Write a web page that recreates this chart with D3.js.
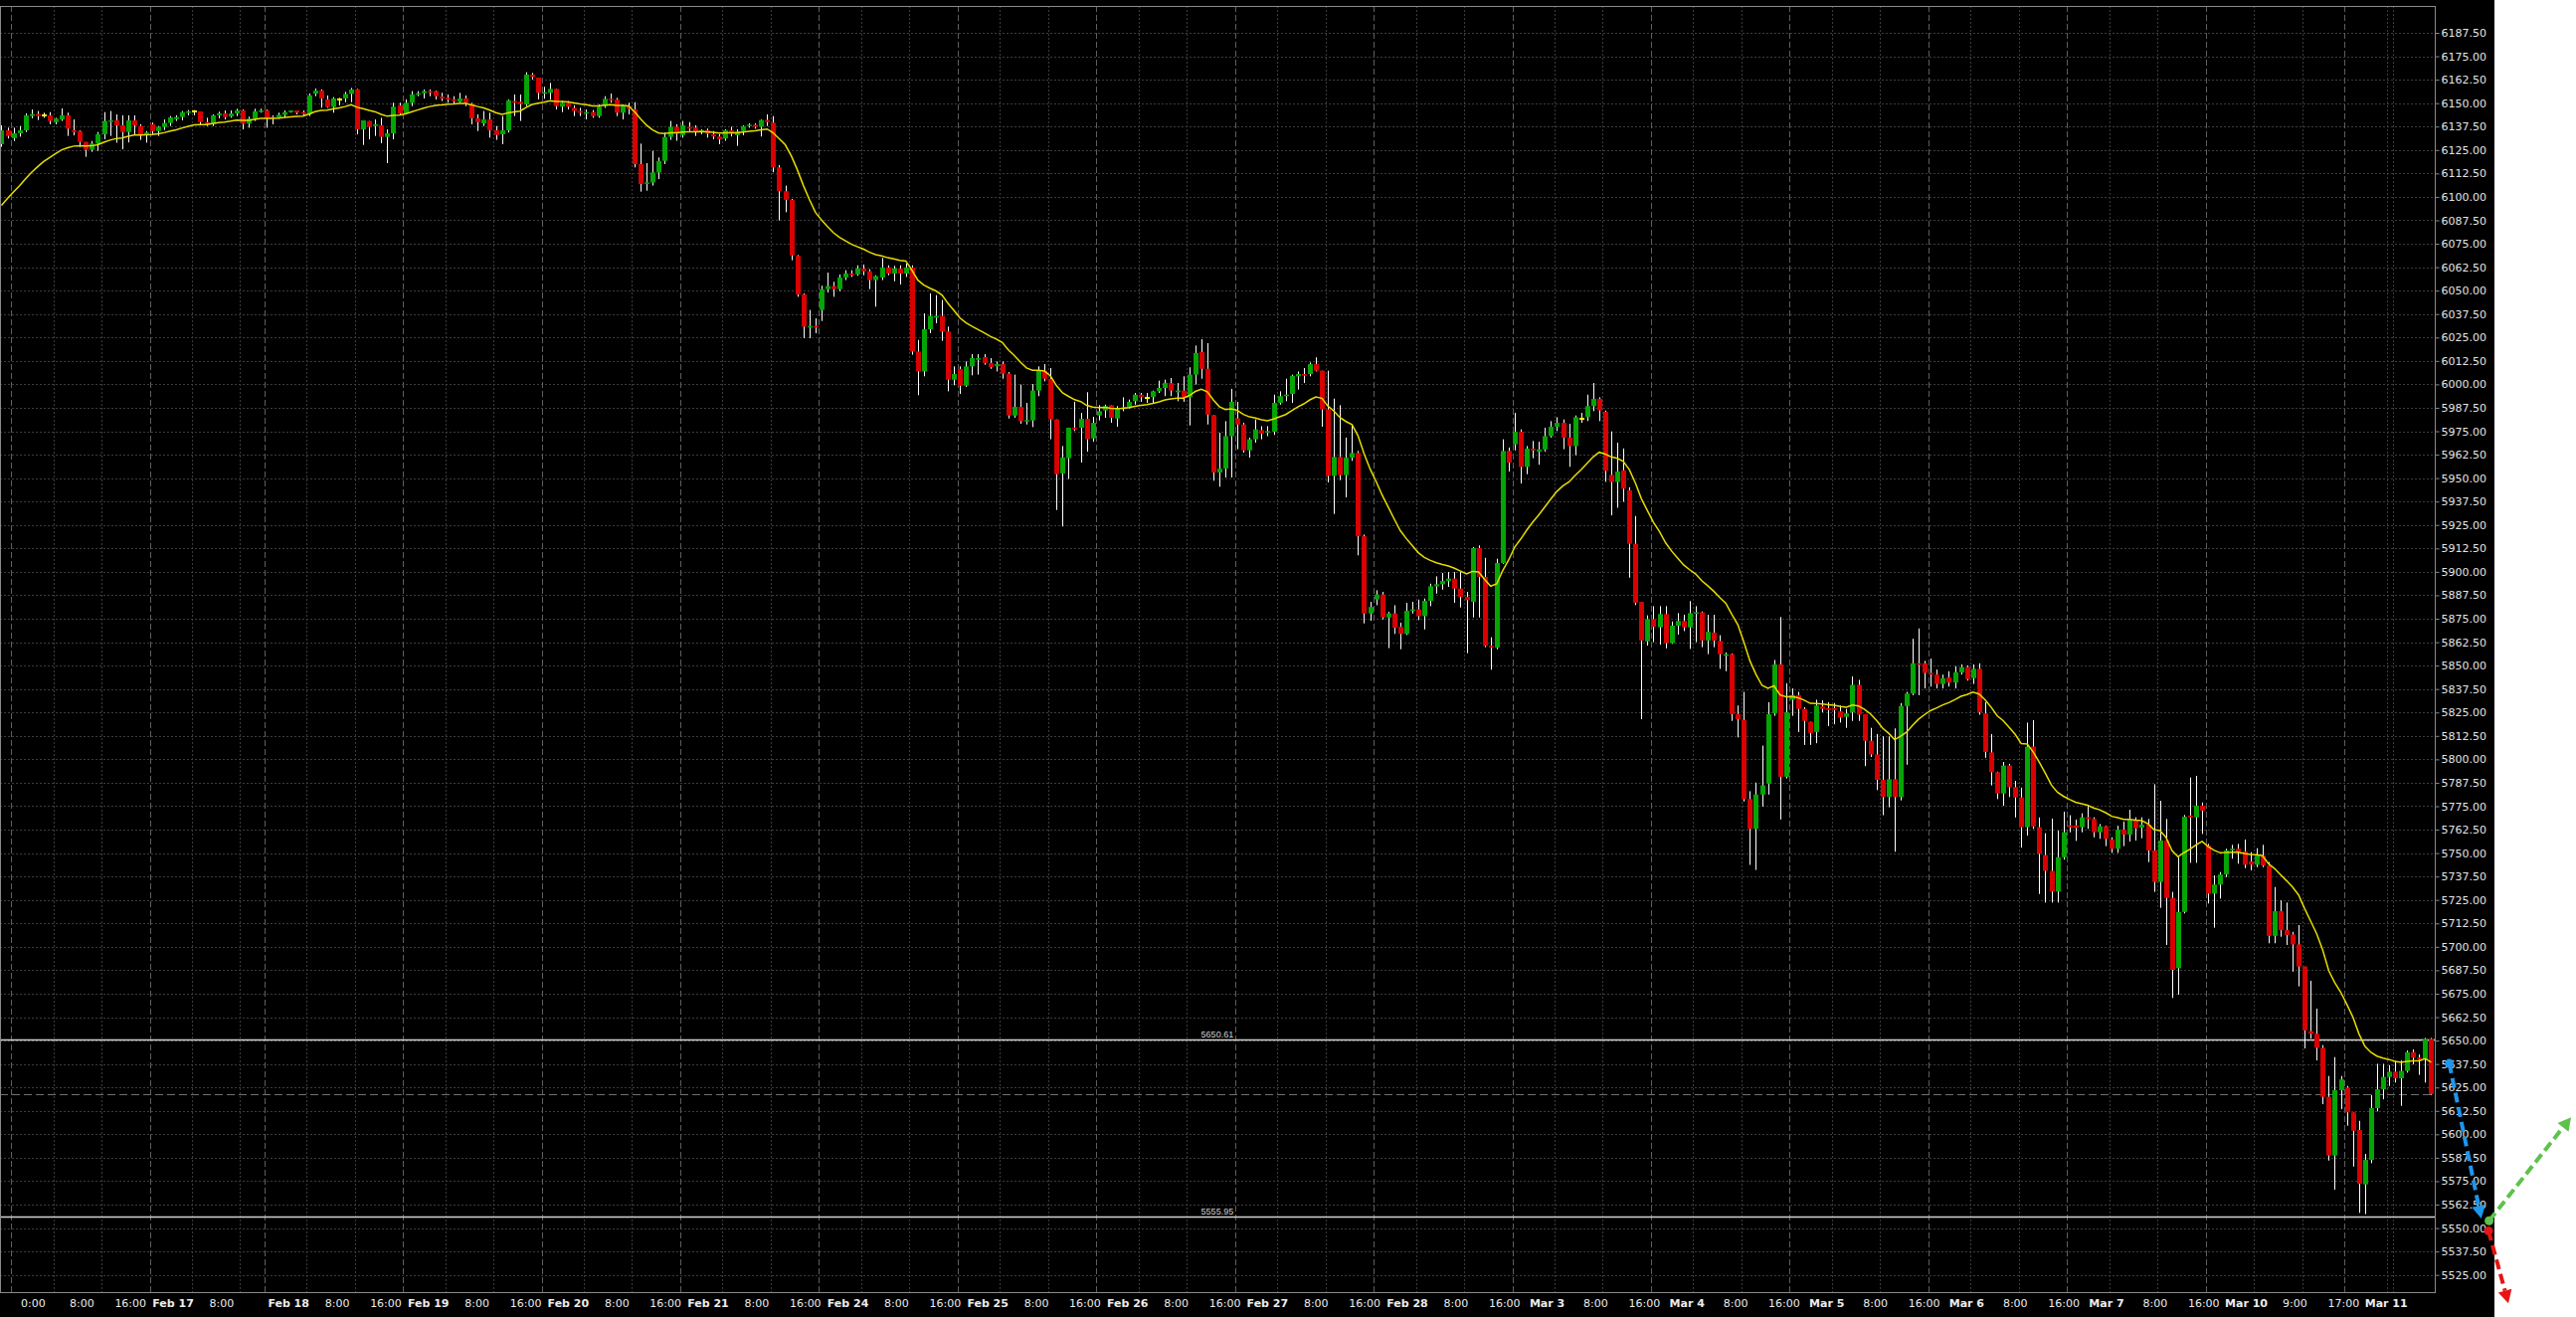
<!DOCTYPE html>
<html><head><meta charset="utf-8">
<script src="https://cdn.jsdelivr.net/npm/d3@7"></script>
<style>
html,body{margin:0;padding:0;background:#ffffff;}
svg{display:block;}
</style></head><body>
<svg id="chart" width="2590" height="1324"></svg>
<script>
// ---------------- DATA (hourly candles) ----------------
const opens = [
6128.1,6135.5,6131.3,6133.9,6135.5,6143.1,6144.2,6143.6,6143.5,6139.9,
6141.3,6143.5,6135.5,6135.1,6129.3,6125.1,6128.4,6133.4,6140.0,6140.8,
6138.2,6134.6,6140.8,6137.8,6132.9,6138.7,6135.1,6137.3,6139.4,6141.5,
6142.6,6145.2,6145.4,6145.6,6139.9,6139.0,6143.5,6144.5,6142.9,6144.5,
6146.1,6139.0,6141.7,6145.6,6146.1,6142.6,6142.1,6143.8,6145.2,6146.1,
6145.2,6144.2,6155.0,6156.7,6152.0,6147.9,6152.0,6152.5,6154.9,6157.3,
6136.0,6140.5,6137.8,6138.2,6132.0,6133.9,6148.8,6144.5,6150.2,6154.6,
6155.3,6156.4,6156.4,6153.5,6152.8,6152.0,6150.7,6152.5,6149.6,6141.9,
6139.2,6141.3,6135.5,6133.4,6135.5,6151.1,6150.7,6149.3,6165.2,6163.6,
6155.1,6155.5,6157.6,6148.1,6150.2,6147.5,6145.8,6144.4,6145.2,6143.1,
6148.4,6152.3,6151.9,6144.9,6148.4,6146.6,6117.5,6106.9,6107.7,6113.0,
6119.2,6132.0,6137.4,6132.9,6137.4,6136.9,6134.6,6135.5,6133.4,6132.2,
6131.1,6135.5,6132.9,6135.1,6137.8,6138.5,6137.4,6141.0,6139.6,6115.7,
6103.0,6098.4,6068.5,6048.0,6030.3,6031.2,6039.7,6050.8,6052.4,6050.8,
6057.0,6059.1,6058.7,6061.8,6060.3,6055.6,6057.0,6062.3,6059.1,6061.8,
6059.1,6062.3,6017.5,6006.9,6029.4,6035.6,6036.5,6028.2,6002.5,6008.2,
5999.3,6009.6,6013.1,6014.5,6011.4,6009.6,6010.8,6005.7,5983.4,5988.0,
5980.4,5980.8,5996.7,6007.3,6003.0,5981.3,5952.5,5960.6,5976.9,5976.9,
5981.6,5971.2,5983.4,5986.1,5988.9,5981.8,5986.9,5987.8,5991.0,5994.5,
5992.8,5993.3,5996.3,5998.1,6000.7,5995.8,5996.7,5993.1,6005.2,6017.2,
6008.3,5983.6,5953.0,5955.1,5972.4,5981.8,5978.6,5964.8,5970.7,5975.6,
5974.2,5974.7,5990.1,5993.7,5994.9,6004.3,6005.5,6005.5,6010.8,6007.3,
5986.6,5951.2,5961.3,5951.6,5960.9,5963.4,5919.0,5877.8,5885.3,5887.9,
5875.7,5877.8,5870.7,5866.9,5879.2,5880.0,5876.4,5884.5,5892.3,5893.4,
5895.1,5896.4,5891.1,5886.7,5884.0,5912.7,5897.3,5860.5,5859.6,5904.7,
5964.5,5968.0,5974.7,5956.0,5965.7,5964.1,5965.3,5972.4,5977.4,5979.5,
5971.6,5967.1,5981.8,5982.5,5988.4,5992.3,5985.3,5951.7,5947.9,5954.2,
5943.5,5915.0,5883.9,5862.9,5874.8,5870.4,5877.5,5862.0,5871.3,5873.8,
5870.4,5877.7,5878.4,5863.4,5867.6,5863.1,5855.2,5856.1,5824.1,5820.9,
5778.8,5762.9,5781.2,5787.0,5824.5,5850.6,5790.7,5831.8,5834.2,5826.9,
5820.0,5814.6,5828.2,5827.3,5827.3,5825.6,5822.7,5825.1,5839.7,5824.1,
5809.9,5802.6,5789.1,5779.9,5789.4,5779.9,5828.4,5835.1,5851.2,5851.2,
5846.1,5845.2,5840.2,5843.7,5841.0,5846.4,5849.2,5843.3,5848.3,5824.5,
5803.7,5793.1,5781.8,5796.7,5785.2,5779.7,5763.8,5806.8,5763.8,5748.9,
5740.5,5729.5,5747.8,5764.8,5764.8,5763.8,5769.1,5768.2,5761.1,5764.3,
5757.2,5752.3,5762.5,5759.9,5767.8,5763.5,5765.2,5751.4,5734.6,5756.7,
5726.1,5688.6,5718.6,5770.0,5769.1,5775.3,5754.0,5728.4,5733.2,5738.6,
5751.4,5752.3,5750.8,5745.5,5743.8,5748.7,5743.4,5705.9,5719.0,5708.9,
5706.6,5701.3,5689.5,5655.0,5653.6,5646.1,5620.0,5588.7,5623.5,5624.9,
5611.7,5602.3,5573.3,5586.4,5614.0,5624.0,5630.6,5633.4,5629.9,5633.8,
5643.8,5640.9,5640.0,5650.9];
const highs = [
6138.2,6136.9,6136.9,6137.8,6144.5,6146.6,6145.8,6144.9,6145.2,6142.2,
6147.2,6144.9,6141.3,6135.5,6129.3,6129.8,6134.6,6145.2,6145.8,6144.0,
6143.5,6143.5,6143.5,6138.7,6135.1,6139.6,6137.8,6141.3,6143.1,6143.5,
6145.8,6146.3,6146.3,6145.6,6142.2,6144.0,6145.4,6146.1,6146.1,6147.0,
6146.6,6142.8,6147.0,6147.0,6146.6,6143.5,6144.9,6146.1,6146.1,6146.1,
6146.1,6155.1,6157.8,6157.3,6154.1,6153.2,6152.8,6156.0,6158.1,6157.6,
6140.8,6140.5,6141.3,6142.2,6136.0,6150.2,6150.2,6152.0,6156.4,6156.4,
6157.3,6157.3,6156.7,6155.5,6154.6,6153.7,6155.5,6154.1,6150.2,6144.0,
6145.8,6144.9,6137.8,6143.1,6151.9,6154.6,6154.6,6166.5,6166.1,6163.6,
6158.7,6160.8,6157.6,6151.1,6151.1,6148.8,6147.5,6146.6,6146.3,6149.3,
6153.7,6155.1,6152.8,6149.3,6150.2,6150.5,6128.4,6118.0,6124.5,6121.0,
6134.3,6140.5,6138.7,6140.5,6139.9,6138.2,6136.0,6136.4,6135.1,6133.4,
6136.0,6137.4,6136.0,6138.2,6139.2,6139.2,6141.3,6144.0,6143.1,6117.0,
6106.0,6098.9,6069.0,6048.5,6039.7,6035.2,6052.6,6059.6,6054.7,6058.6,
6060.9,6060.9,6063.5,6063.9,6061.4,6058.2,6067.4,6063.5,6063.2,6063.5,
6064.4,6063.5,6023.7,6037.9,6048.5,6047.6,6045.0,6030.8,6009.6,6009.6,
6012.2,6016.1,6016.1,6016.1,6014.0,6012.2,6012.2,6006.6,6005.2,5999.9,
5990.1,6000.2,6009.6,6010.8,6008.7,5981.3,5967.1,5976.9,5990.7,5984.8,
5995.8,5982.7,5988.9,5989.2,5988.9,5988.4,5993.1,5991.9,5995.4,5995.4,
5995.4,5996.7,6002.0,6002.5,6003.4,6000.7,6004.3,6009.1,6020.7,6024.1,
6022.0,5983.6,5974.2,5980.4,5997.6,5990.7,5979.5,5971.6,5981.3,5977.7,
5977.7,5994.5,5996.3,6003.0,6005.2,6006.9,6008.7,6011.7,6014.4,6007.3,
6007.3,5992.4,5988.9,5971.6,5978.6,5964.5,5919.9,5884.0,5890.2,5889.3,
5878.7,5882.2,5872.9,5883.5,5884.0,5885.2,5885.8,5893.7,5897.6,5899.4,
5899.9,5899.9,5899.9,5889.3,5913.2,5914.1,5907.5,5865.1,5907.0,5970.7,
5966.3,5984.8,5976.0,5967.1,5969.8,5969.4,5976.9,5980.4,5982.5,5981.3,
5979.0,5983.4,5984.8,5994.5,6000.7,5993.1,5986.0,5974.9,5968.9,5965.8,
5945.1,5929.8,5883.9,5876.8,5881.7,5881.7,5881.7,5873.5,5878.0,5877.1,
5884.4,5881.7,5878.9,5877.1,5877.1,5866.2,5857.0,5856.5,5828.7,5836.0,
5783.0,5787.6,5807.3,5830.5,5853.0,5875.9,5840.6,5837.8,5836.0,5827.8,
5820.1,5831.8,5831.5,5830.5,5830.0,5828.7,5826.9,5844.2,5842.4,5824.1,
5816.8,5813.5,5812.3,5812.3,5816.5,5830.0,5836.0,5864.3,5869.8,5852.5,
5853.7,5847.9,5845.2,5847.0,5849.7,5850.6,5850.1,5850.6,5851.2,5830.5,
5813.5,5793.4,5798.6,5797.6,5788.5,5784.9,5819.6,5820.9,5769.0,5760.6,
5768.4,5762.0,5772.1,5770.2,5767.9,5771.2,5775.3,5769.1,5765.5,5764.6,
5758.4,5764.6,5766.8,5773.1,5769.1,5769.1,5768.2,5786.7,5777.9,5768.2,
5729.3,5747.8,5770.3,5790.3,5791.2,5777.0,5754.9,5738.1,5739.9,5752.3,
5754.4,5754.9,5757.2,5750.5,5752.6,5754.4,5745.2,5731.9,5724.8,5723.6,
5708.0,5711.6,5689.5,5681.9,5667.0,5647.6,5631.1,5641.2,5631.1,5625.8,
5611.7,5607.2,5589.5,5621.0,5637.6,5637.6,5636.9,5639.1,5639.4,5644.7,
5645.3,5642.6,5651.4,5651.4];
const lows = [
6126.7,6131.1,6129.8,6132.1,6134.6,6141.9,6141.0,6142.2,6138.7,6138.7,
6140.5,6132.5,6132.8,6126.7,6121.4,6124.0,6124.5,6130.7,6132.5,6128.9,
6125.4,6129.0,6133.4,6130.4,6128.9,6133.4,6132.5,6135.7,6137.8,6140.5,
6140.8,6143.5,6143.5,6138.7,6137.8,6137.8,6141.9,6141.3,6142.2,6143.1,
6136.0,6136.9,6140.5,6144.9,6136.9,6138.7,6141.7,6142.2,6144.9,6144.0,
6143.5,6143.1,6153.7,6147.5,6147.5,6144.9,6148.8,6150.5,6150.5,6133.4,
6127.7,6130.7,6132.5,6128.6,6118.0,6130.7,6144.0,6144.0,6148.4,6153.7,
6152.5,6153.7,6151.9,6151.1,6150.2,6149.3,6150.2,6148.4,6138.7,6135.1,
6137.8,6131.6,6130.4,6128.1,6134.3,6143.1,6140.5,6148.4,6162.6,6152.0,
6152.3,6152.0,6146.6,6145.2,6146.6,6143.1,6143.1,6141.3,6142.2,6142.2,
6147.5,6150.2,6143.1,6141.3,6144.0,6115.7,6102.8,6103.3,6106.0,6109.5,
6117.5,6130.4,6129.9,6131.6,6135.1,6132.5,6133.4,6131.6,6130.7,6128.1,
6129.9,6132.2,6127.2,6132.9,6136.9,6136.4,6132.2,6137.8,6113.1,6087.4,
6091.8,6066.2,6046.7,6024.6,6024.6,6027.3,6033.8,6049.0,6046.7,6049.7,
6055.6,6057.3,6057.9,6058.2,6050.8,6041.4,6055.6,6058.2,6055.0,6053.3,
6057.3,6015.8,5994.2,6004.3,6027.3,6032.6,6023.2,5996.3,5999.5,5994.9,
5998.6,6004.8,6005.2,6010.5,6008.3,6006.9,6003.0,5981.8,5982.2,5979.0,
5978.6,5977.2,5993.7,6001.6,5970.7,5933.0,5924.2,5949.5,5975.1,5958.3,
5964.1,5969.4,5980.8,5982.2,5979.5,5977.4,5985.7,5987.1,5989.2,5990.7,
5990.1,5989.6,5995.4,5993.7,5993.7,5991.0,5990.7,5978.1,5999.9,6003.0,
5978.6,5948.6,5945.4,5950.3,5950.3,5965.4,5963.6,5960.9,5968.9,5970.7,
5972.4,5973.0,5989.2,5991.0,5990.1,5997.2,6000.7,6004.3,6006.9,5977.4,
5947.7,5930.9,5948.9,5939.7,5959.2,5908.8,5872.5,5873.9,5882.2,5874.6,
5859.3,5866.9,5858.7,5866.3,5877.8,5874.3,5869.3,5881.7,5888.4,5890.5,
5892.0,5883.5,5881.0,5856.6,5875.7,5875.7,5859.8,5847.8,5858.7,5904.3,
5953.5,5964.8,5947.1,5952.1,5960.6,5957.1,5964.1,5971.6,5975.1,5965.4,
5956.0,5962.2,5979.5,5980.4,5985.7,5980.4,5948.0,5930.1,5934.2,5937.4,
5896.9,5882.3,5821.4,5860.7,5862.5,5861.1,5859.2,5861.6,5866.5,5868.4,
5858.9,5862.5,5859.8,5856.1,5859.8,5848.3,5847.0,5820.5,5811.7,5777.5,
5743.7,5741.0,5774.8,5781.2,5823.2,5767.9,5789.8,5823.2,5814.6,5807.7,
5807.7,5808.6,5825.1,5817.7,5818.7,5819.6,5816.8,5820.5,5820.5,5796.4,
5801.3,5783.6,5770.2,5774.4,5750.7,5778.1,5797.1,5834.2,5834.2,5837.8,
5838.8,5837.8,5837.8,5838.8,5837.8,5845.2,5842.0,5840.2,5823.8,5800.8,
5786.1,5778.8,5775.2,5779.9,5769.0,5752.9,5759.3,5762.9,5728.2,5723.6,
5723.6,5723.6,5746.5,5761.1,5756.5,5761.1,5762.9,5758.4,5757.6,5753.7,
5750.1,5750.1,5753.7,5756.1,5756.7,5757.9,5745.2,5729.3,5720.8,5701.0,
5672.7,5674.4,5717.8,5744.8,5744.8,5760.2,5723.1,5710.2,5725.7,5737.2,
5747.0,5744.3,5742.0,5740.8,5742.5,5742.5,5701.9,5701.9,5705.4,5701.0,
5686.8,5678.9,5645.8,5651.1,5639.4,5616.1,5586.0,5570.5,5613.4,5604.6,
5582.8,5558.1,5557.4,5584.6,5612.2,5618.7,5625.8,5627.6,5615.2,5632.9,
5637.3,5631.7,5627.6,5621.0];
const closes = [
6135.5,6132.5,6133.9,6135.5,6143.5,6144.2,6143.1,6143.6,6140.5,6141.7,
6143.5,6136.4,6134.6,6129.3,6125.1,6128.4,6133.4,6140.5,6140.8,6138.2,
6134.6,6140.8,6138.2,6132.9,6134.3,6135.1,6137.3,6139.4,6142.4,6142.6,
6145.2,6145.6,6145.4,6139.9,6139.0,6143.5,6144.5,6142.6,6144.5,6146.1,
6139.0,6141.7,6145.6,6146.1,6141.9,6141.9,6143.8,6145.2,6146.1,6144.9,
6144.2,6154.1,6156.7,6152.5,6147.9,6152.5,6152.0,6154.9,6157.3,6136.0,
6140.8,6137.3,6138.7,6132.0,6133.9,6148.1,6144.5,6150.2,6154.6,6155.3,
6156.4,6155.8,6153.7,6152.5,6151.9,6151.1,6152.5,6150.2,6141.9,6139.9,
6141.3,6135.5,6133.0,6135.5,6151.4,6150.2,6149.6,6165.2,6164.0,6155.5,
6155.8,6157.6,6148.4,6150.2,6148.1,6145.8,6144.9,6145.2,6143.1,6148.1,
6152.3,6151.6,6144.9,6148.8,6147.0,6117.5,6106.9,6107.7,6113.0,6119.2,
6132.0,6137.4,6133.7,6138.2,6136.4,6134.6,6135.5,6133.7,6132.2,6130.7,
6135.5,6133.7,6134.8,6137.8,6138.5,6137.4,6141.0,6139.9,6115.7,6103.0,
6098.4,6068.8,6048.0,6030.8,6031.2,6030.3,6050.8,6052.4,6050.8,6057.0,
6059.1,6058.2,6061.8,6060.3,6055.6,6057.7,6062.3,6059.1,6061.8,6059.1,
6062.3,6017.5,6006.9,6029.4,6036.5,6036.5,6028.2,6002.5,6005.5,5999.3,
6009.6,6014.0,6014.0,6011.4,6009.2,6010.8,6005.7,5983.4,5988.0,5980.4,
5981.0,5996.7,6007.3,6003.0,5981.3,5952.1,5961.0,5976.9,5976.0,5981.6,
5970.7,5979.5,5985.7,5988.4,5982.2,5986.9,5987.8,5990.7,5994.5,5993.3,
5992.8,5996.3,5998.1,6000.7,5996.7,5996.7,5993.1,6005.2,6016.7,6008.3,
5983.9,5953.0,5955.1,5972.4,5990.7,5978.6,5964.8,5970.7,5976.0,5973.7,
5975.1,5990.1,5993.7,5994.5,6004.6,6005.5,6004.6,6010.8,6007.3,5986.6,
5951.2,5961.3,5951.6,5960.9,5963.4,5919.0,5877.8,5881.3,5887.9,5875.7,
5877.8,5870.2,5866.9,5879.2,5880.0,5876.4,5884.5,5892.3,5893.4,5895.1,
5896.4,5891.1,5886.7,5884.9,5912.7,5897.3,5860.5,5859.6,5904.7,5964.5,
5958.3,5974.7,5956.0,5965.7,5964.8,5965.3,5972.4,5977.4,5979.5,5971.6,
5967.1,5982.5,5981.8,5988.4,5992.3,5986.1,5953.9,5947.9,5953.5,5944.4,
5915.0,5883.5,5863.4,5874.8,5870.7,5877.5,5862.0,5871.3,5873.8,5870.4,
5878.0,5878.4,5863.4,5868.0,5863.4,5856.1,5856.1,5824.1,5821.4,5778.8,
5762.9,5781.2,5786.1,5824.1,5850.6,5790.7,5825.1,5834.2,5826.9,5820.5,
5814.1,5828.7,5826.9,5826.3,5826.3,5822.3,5824.5,5839.7,5823.8,5809.9,
5802.6,5789.1,5779.9,5789.4,5779.9,5828.4,5835.1,5851.2,5850.6,5846.1,
5845.2,5840.2,5843.3,5841.0,5846.4,5849.2,5842.8,5848.3,5825.1,5804.0,
5793.1,5781.8,5796.7,5785.2,5779.7,5763.8,5806.8,5764.2,5749.6,5740.5,
5729.5,5747.8,5761.1,5763.8,5763.5,5769.0,5768.2,5761.1,5764.3,5757.6,
5752.3,5762.5,5759.9,5767.8,5763.2,5765.2,5751.4,5734.6,5756.7,5726.1,
5687.7,5718.6,5769.4,5769.1,5775.3,5772.6,5728.4,5733.2,5738.6,5751.4,
5752.3,5750.8,5743.8,5743.8,5748.7,5743.4,5705.9,5719.0,5708.9,5706.3,
5701.3,5689.5,5655.4,5653.6,5646.1,5620.0,5588.7,5623.5,5629.3,5611.7,
5601.9,5573.6,5586.4,5614.0,5624.0,5630.6,5633.4,5629.9,5633.8,5643.8,
5640.9,5640.0,5650.9,5621.5];

// session structure (bars per day; first 2 bars belong to the previous session)
const leadBars = 2;
const dayNames   = ["Feb 14","Feb 17","Feb 18","Feb 19","Feb 20","Feb 21","Feb 24","Feb 25","Feb 26","Feb 27","Feb 28","Mar 3","Mar 4","Mar 5","Mar 6","Mar 7","Mar 10","Mar 11"];
const dayLengths = [23,19,23,23,23,23,23,23,23,23,23,23,23,23,23,23,23,15];
const dayGridOffsets = [[7,15],[7,15],[7,15],[7,15],[7,15],[7,15],[7,15],[7,15],[7,15],[7,15],[7,15],[7,15],[7,15],[7,15],[7,15],[7,15],[8,16],[7,8]];

// time-axis tick labels (bar index, text)
const tickBars = [2,10,18,25,33,44,52,60,67,75,83,90,98,106,113,121,129,136,144,152,159,167,175,182,190,198,205,213,221,228,236,244,251,259,267,274,282,290,297,305,313,320,328,336,343,351,359,366,374,382,389];
const tickTexts = ["0:00","8:00","16:00","Feb 17","8:00","Feb 18","8:00","16:00","Feb 19","8:00","16:00","Feb 20","8:00","16:00","Feb 21","8:00","16:00","Feb 24","8:00","16:00","Feb 25","8:00","16:00","Feb 26","8:00","16:00","Feb 27","8:00","16:00","Feb 28","8:00","16:00","Mar 3","8:00","16:00","Mar 4","8:00","16:00","Mar 5","8:00","16:00","Mar 6","8:00","16:00","Mar 7","8:00","16:00","Mar 10","9:00","17:00","Mar 11"];

// price axis ticks
const priceTicks = d3.range(5525, 6187.5 + 0.01, 12.5);

// moving average (exponential, period 19) and its value at the first visible bar
const maPeriod = 19;
const maStart = 6095.4;

// horizontal level lines
const levelValues = [5650.61, 5555.95];
const levelLabels = ["5650.61", "5555.95"];
const levelLabelBar = 205;

// arrows drawn at the right edge: [startBar, startPrice, endBar, endPrice]
const arrowStarts = [[406.0, 5637.8], [412.6, 5553.9], [412.5, 5548.5]];
const arrowEnds   = [[411.3, 5555.1], [426.2, 5609.1], [415.8, 5509.9]];
const arrowColors = ["#1e96ee", "#5ec24a", "#e61414"];

// ---------------- LAYOUT ----------------
const W = 2590, H = 1324;
const plot = {left: 0, right: 2448, top: 6, bottom: 1299};
const canvasRight = 2508;
const n = closes.length;

const x = d3.scaleLinear().domain([0, n - 1]).range([1.45, 1.45 + 6.062 * (n - 1)]);
const xLabel = d3.scaleLinear().domain([0, n - 1]).range([21.2, 21.2 + 6.113 * (n - 1)]);
const y = d3.scaleLinear().domain([5525, 6187.5]).range([1281.7, 33]);

const svg = d3.select("#chart");
svg.append("rect").attr("x", 0).attr("y", 0).attr("width", W).attr("height", H).attr("fill", "#ffffff");
svg.append("rect").attr("x", 0).attr("y", 0).attr("width", canvasRight).attr("height", H).attr("fill", "#000000");

const grid = svg.append("g");
// horizontal grid
grid.selectAll("line.h").data(priceTicks).join("line")
  .attr("x1", plot.left).attr("x2", plot.right)
  .attr("y1", d => Math.round(y(d)) + 0.5).attr("y2", d => Math.round(y(d)) + 0.5)
  .attr("stroke", "#3c3c3c").attr("stroke-width", 1).attr("stroke-dasharray", "2,2");

// vertical grid
const dayStarts = [];
let acc = leadBars;
dayLengths.forEach(len => { dayStarts.push(acc); acc += len; });
const minorBars = [];
dayStarts.forEach((s, i) => dayGridOffsets[i].forEach(o => minorBars.push(s + o)));
const gx = b => Math.round(x(b) - 2.5) + 0.5;
grid.selectAll("line.vm").data(minorBars).join("line")
  .attr("x1", gx).attr("x2", gx).attr("y1", plot.top).attr("y2", plot.bottom)
  .attr("stroke", "#3c3c3c").attr("stroke-width", 1).attr("stroke-dasharray", "2,2");
grid.selectAll("line.vd").data(dayStarts).join("line")
  .attr("x1", gx).attr("x2", gx).attr("y1", plot.top).attr("y2", plot.bottom)
  .attr("stroke", "#5e5e5e").attr("stroke-width", 1).attr("stroke-dasharray", "6,3");

// last price line
const lastClose = closes[n - 1];
svg.append("line")
  .attr("x1", plot.left).attr("x2", plot.right)
  .attr("y1", Math.round(y(lastClose)) + 0.5).attr("y2", Math.round(y(lastClose)) + 0.5)
  .attr("stroke", "#707070").attr("stroke-width", 1).attr("stroke-dasharray", "8,4");

// level lines
const lv = svg.append("g");
lv.selectAll("line").data(levelValues).join("line")
  .attr("x1", plot.left).attr("x2", plot.right)
  .attr("y1", d => Math.round(y(d)) + 0.5).attr("y2", d => Math.round(y(d)) + 0.5)
  .attr("stroke", "#d2d2d2").attr("stroke-width", 1.5);
lv.selectAll("text").data(levelValues).join("text")
  .attr("x", x(levelLabelBar) - 4).attr("y", d => Math.round(y(d)) - 2)
  .attr("text-anchor", "end")
  .attr("font-family", "'Liberation Sans', Arial, sans-serif").attr("font-size", 9)
  .attr("fill", "#cfcfcf")
  .text((d, i) => levelLabels[i]);

// candles
const idx = d3.range(n);
const cg = svg.append("g");
cg.selectAll("line.w").data(idx).join("line")
  .attr("x1", i => Math.round(x(i)) + 0.5).attr("x2", i => Math.round(x(i)) + 0.5)
  .attr("y1", i => y(highs[i])).attr("y2", i => y(lows[i]))
  .attr("stroke", "#ffffff").attr("stroke-width", 1);
cg.selectAll("rect.b").data(idx).join("rect")
  .attr("x", i => Math.round(x(i)) - 2)
  .attr("width", 5)
  .attr("y", i => opens[i] === closes[i] ? Math.round(y(closes[i])) - 1 : y(Math.max(opens[i], closes[i])))
  .attr("height", i => opens[i] === closes[i] ? 2 : Math.max(1.5, Math.abs(y(opens[i]) - y(closes[i]))))
  .attr("fill", i => opens[i] === closes[i] ? "#ffff00" : (closes[i] > opens[i] ? "#04a504" : "#d80000"));

// moving average
const alpha = 2 / (maPeriod + 1);
const ma = [];
closes.forEach((c, i) => { ma.push(i === 0 ? maStart : ma[i - 1] + alpha * (c - ma[i - 1])); });
svg.append("path").datum(idx)
  .attr("d", d3.line().x(i => x(i)).y(i => y(ma[i])))
  .attr("fill", "none").attr("stroke", "#e6dc00").attr("stroke-width", 1.5);

// frame
svg.append("rect")
  .attr("x", plot.left + 0.5).attr("y", plot.top + 0.5)
  .attr("width", plot.right - plot.left).attr("height", plot.bottom - plot.top)
  .attr("fill", "none").attr("stroke", "#8a8a8a").attr("stroke-width", 1);

// price axis
const yAxis = d3.axisRight(y).tickValues(priceTicks).tickFormat(d3.format(".2f")).tickSize(4).tickPadding(2);
const ya = svg.append("g").attr("transform", `translate(${plot.right + 0.5},0)`).call(yAxis);
ya.select(".domain").remove();
ya.selectAll(".tick line").attr("stroke", "#8a8a8a");
ya.selectAll(".tick text").attr("fill", "#e4e4e4")
  .attr("font-family", "'DejaVu Sans', Verdana, sans-serif").attr("font-size", 11);

// time axis labels
svg.append("g").selectAll("text").data(tickBars).join("text")
  .attr("x", b => xLabel(b)).attr("y", 1314)
  .attr("text-anchor", "middle")
  .attr("font-family", "'DejaVu Sans', Verdana, sans-serif").attr("font-size", 11)
  .attr("font-weight", (b, i) => tickTexts[i].includes(" ") ? "bold" : "normal")
  .attr("fill", "#ececec")
  .text((b, i) => tickTexts[i]);

// arrows
const ag = svg.append("g");
arrowStarts.forEach((s, k) => {
  const x0 = x(s[0]), y0 = y(s[1]);
  const x1 = x(arrowEnds[k][0]), y1 = y(arrowEnds[k][1]);
  const dx = x1 - x0, dy = y1 - y0, len = Math.hypot(dx, dy);
  const ux = dx / len, uy = dy / len;
  const headL = 13, headW = 7;
  const bx = x1 - ux * headL, by = y1 - uy * headL;
  ag.append("line").attr("x1", x0).attr("y1", y0).attr("x2", bx).attr("y2", by)
    .attr("stroke", arrowColors[k]).attr("stroke-width", 4).attr("stroke-dasharray", "10,5");
  ag.append("path")
    .attr("d", `M${x1},${y1}L${bx - uy * headW},${by + ux * headW}L${bx + uy * headW},${by - ux * headW}Z`)
    .attr("fill", arrowColors[k]);
  ag.append("circle").attr("cx", x0).attr("cy", y0).attr("r", 4.5).attr("fill", arrowColors[k]);
});
</script>
</body></html>
